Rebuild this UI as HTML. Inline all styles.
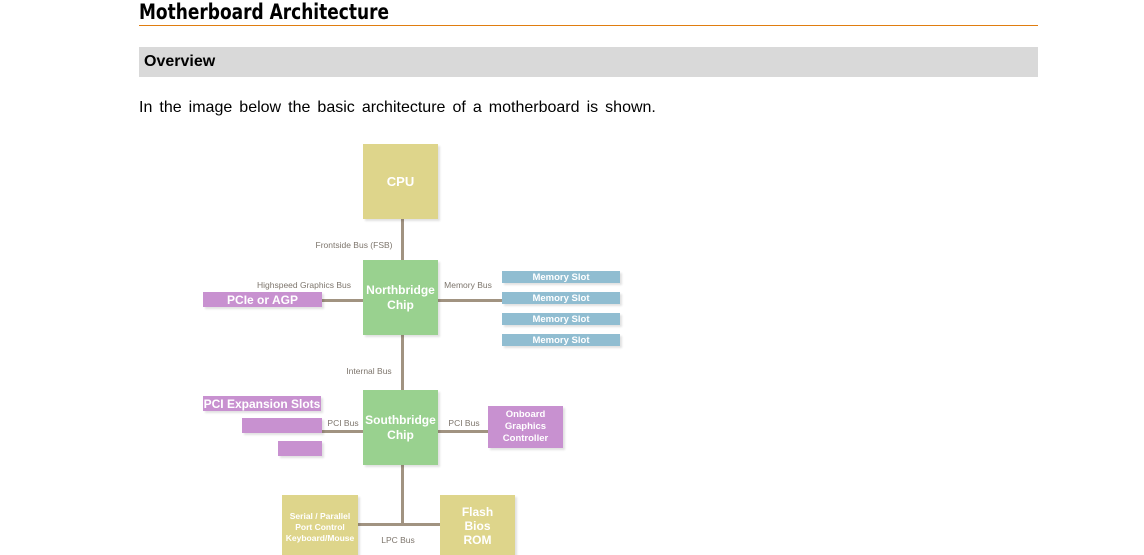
<!DOCTYPE html>
<html><head><meta charset="utf-8"><style>
body{margin:0;width:1144px;height:546px;overflow:hidden;background:#fff;position:relative;font-family:"Liberation Sans",sans-serif}
.a{position:absolute}
.b{position:absolute;color:#fff;font-weight:bold;display:flex;align-items:center;justify-content:center;text-align:center;box-shadow:2px 2px 2px rgba(0,0,0,0.12)}
.y{background:#ded58b}.g{background:#99d18f}.p{background:#c891d0}.m{background:#90bdd1}
.l{position:absolute;background:#a19381}
.t{position:absolute;font-size:8.5px;color:#7d756c;white-space:nowrap;transform:translateX(-50%)}
</style></head><body>
<div class="a" style="left:139px;top:0px;font-size:21px;font-weight:bold;font-family:'DejaVu Sans Condensed','Liberation Sans Narrow',sans-serif;transform:scaleX(0.9);transform-origin:left">Motherboard Architecture</div>
<div class="a" style="left:139px;top:25px;width:899px;height:1px;background:#e07d10"></div>
<div class="a" style="left:139px;top:47px;width:899px;height:30px;background:#d9d9d9"></div>
<div class="a" style="left:144px;top:53px;font-size:16px;font-weight:bold">Overview</div>
<div class="a" style="left:139px;top:99px;font-size:16px;word-spacing:2.6px">In the image below the basic architecture of a motherboard is shown.</div>

<div class="l" style="left:401px;top:219px;width:3px;height:306px"></div>
<div class="l" style="left:322px;top:299px;width:180px;height:3px"></div>
<div class="l" style="left:322px;top:430px;width:166px;height:3px"></div>
<div class="l" style="left:358px;top:523px;width:82px;height:3px"></div>

<div class="b y" style="left:363px;top:144px;width:75px;height:75px;font-size:13px">CPU</div>
<div class="b g" style="left:363px;top:260px;width:75px;height:75px;font-size:12px;line-height:15px">Northbridge<br>Chip</div>
<div class="b g" style="left:363px;top:390px;width:75px;height:75px;font-size:12px;line-height:15px">Southbridge<br>Chip</div>
<div class="b p" style="left:203px;top:292px;width:119px;height:15px;font-size:12px">PCIe or AGP</div>
<div class="b m" style="left:502px;top:271px;width:118px;height:12px;font-size:9.5px">Memory Slot</div>
<div class="b m" style="left:502px;top:292px;width:118px;height:12px;font-size:9.5px">Memory Slot</div>
<div class="b m" style="left:502px;top:313px;width:118px;height:12px;font-size:9.5px">Memory Slot</div>
<div class="b m" style="left:502px;top:334px;width:118px;height:12px;font-size:9.5px">Memory Slot</div>
<div class="b p" style="left:203px;top:396px;width:118px;height:15px;font-size:12px">PCI Expansion Slots</div>
<div class="b p" style="left:242px;top:418px;width:80px;height:15px"></div>
<div class="b p" style="left:278px;top:441px;width:44px;height:15px"></div>
<div class="b p" style="left:488px;top:406px;width:75px;height:42px;font-size:9.5px;line-height:12px">Onboard<br>Graphics<br>Controller</div>
<div class="b y" style="left:282px;top:495px;width:76px;height:60px;font-size:8.5px;line-height:11px;align-items:flex-start"><div style="margin-top:16px">Serial / Parallel<br>Port Control<br>Keyboard/Mouse</div></div>
<div class="b y" style="left:440px;top:495px;width:75px;height:60px;font-size:12px;line-height:14px;align-items:flex-start"><div style="margin-top:10px">Flash<br>Bios<br>ROM</div></div>

<div class="t" style="left:354px;top:240px">Frontside Bus (FSB)</div>
<div class="t" style="left:304px;top:280px">Highspeed Graphics Bus</div>
<div class="t" style="left:468px;top:280px">Memory Bus</div>
<div class="t" style="left:369px;top:366px">Internal Bus</div>
<div class="t" style="left:343px;top:418px">PCI Bus</div>
<div class="t" style="left:464px;top:418px">PCI Bus</div>
<div class="t" style="left:398px;top:535px">LPC Bus</div>
</body></html>
